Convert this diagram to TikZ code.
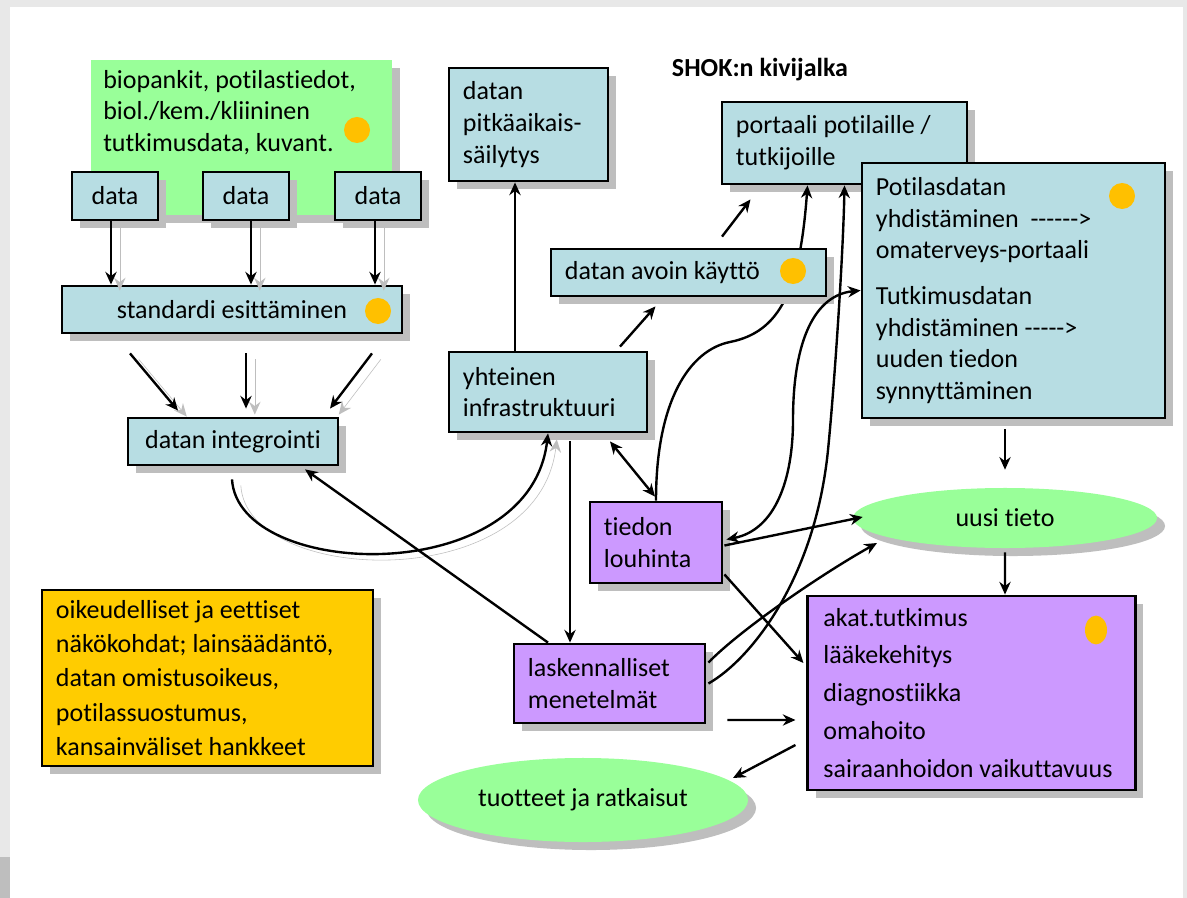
\documentclass[tikz,border=0pt]{standalone}
\usepackage{fontspec}
\setmainfont{Carlito}[Ligatures=NoCommon]
\usepackage{tikz}
\usetikzlibrary{shapes,arrows.meta,positioning,calc,shadows}
\usepackage{xcolor}

\definecolor{boxblue}{RGB}{183,221,227}
\definecolor{boxpurple}{RGB}{204,153,255}
\definecolor{boxgreen}{RGB}{153,255,153}
\definecolor{boxorange}{RGB}{255,204,0}
\definecolor{dotyellow}{RGB}{255,192,0}
\definecolor{shadowgray}{RGB}{190,190,190}
\definecolor{framegray}{RGB}{232,232,232}
\definecolor{cornergray}{RGB}{190,190,190}

\newcommand{\hy}{\hbox{-}}

\begin{document}
\begin{tikzpicture}[x=0.025cm, y=-0.025cm,
    every node/.style={font=\fontsize{18.5}{22.5}\selectfont},
    boxshadow/.style={drop shadow={shadow xshift=0.2cm, shadow yshift=-0.2cm, fill=shadowgray, opacity=1}},
    bluebox/.style={rectangle, draw=black, line width=2pt, fill=boxblue, boxshadow, inner xsep=0.35cm, align=flush left},
    purplebox/.style={rectangle, draw=black, line width=2pt, fill=boxpurple, boxshadow, inner xsep=0.35cm, align=flush left},
    orangebox/.style={rectangle, draw=black, line width=2pt, fill=boxorange, boxshadow, inner xsep=0.35cm, align=flush left},
    greenbox/.style={rectangle, fill=boxgreen, boxshadow},
    greenoval/.style={ellipse, fill=boxgreen, boxshadow, inner sep=0},
    dot/.style={circle, fill=dotyellow, minimum size=0.65cm, inner sep=0},
    arrow/.style={->, >={Stealth[length=9pt,width=8pt]}, line width=1.7pt},
    dblarrow/.style={<->, >={Stealth[length=9pt,width=8pt]}, line width=1.7pt},
    arrowshadow/.style={preaction={draw=shadowgray, transform canvas={shift={(0.22cm,-0.15cm)}}}}
]

% page
\fill[framegray] (0,0) rectangle (1187,898);
\fill[white] (10,7) rectangle (1183,898);
\fill[cornergray] (0,857) rectangle (10,898);
\useasboundingbox (0,0) rectangle (1187,898);

% sources
\node (bio) [greenbox, minimum width=7.525cm, minimum height=3.875cm] at (241.5,137.5) {};
\node (biotext) [anchor=north west, align=left, inner sep=0] at (103,70) {biopankit, potilastiedot,\\biol./kem./kliininen\\tutkimusdata, kuvant.};
\node (dotbio) [dot] at (357,130) {};

\node (d1) [bluebox, minimum width=2.15cm, minimum height=1.2cm, inner xsep=0] at (115,196) {data};
\node (d2) [bluebox, minimum width=2.15cm, minimum height=1.2cm, inner xsep=0] at (246,196) {data};
\node (d3) [bluebox, minimum width=2.15cm, minimum height=1.2cm, inner xsep=0] at (378,196) {data};

\node (std) [bluebox, minimum width=8.5cm, minimum height=1.175cm, align=center] at (232,309.5) {standardi esittäminen};
\node (dotstd) [dot] at (378,311) {};
\node (integ) [bluebox, minimum width=5.25cm, minimum height=1.175cm, align=center] at (233,441.5) {datan integrointi};

% infrastructure
\node (title) [anchor=west, font=\fontsize{18.5}{22.5}\selectfont\bfseries] at (667,70) {SHOK:n kivijalka};
\node (pitka) [bluebox, text width=3.275cm, minimum height=2.825cm] at (528.5,124.5) {datan\\pitkäaikais-\\säilytys};
\node (infra) [bluebox, text width=4.25cm, minimum height=2cm] at (548,392) {yhteinen\\infrastruktuuri};
\node (portaali) [bluebox, text width=5.425cm, minimum height=2.05cm] at (844.5,143) {portaali potilaille /\\tutkijoille};
\node (tiedon) [purplebox, text width=2.6cm, minimum height=2.025cm] at (656,542.5) {tiedon\\louhinta};

% runs behind the open data box
\draw[arrow] (tiedon.north) .. controls (656,400) and (690,350) .. (730,342)
    .. controls (780,332) and (800,290) .. ($(portaali.south)+(-37,0)$);

\node (avoin) [bluebox, text width=6.175cm, minimum height=1.175cm] at (688.5,272.5) {datan avoin käyttö};
\node (dotavoin) [dot] at (793,271) {};

\node (pot) [bluebox, text width=6.875cm, minimum height=6.375cm] at (1013.5,290.5)
    {Potilasdatan\\yhdistäminen \ \hy\hy\hy\hy\hy\hy>\\omaterveys-portaali\\[10pt]Tutkimusdatan\\yhdistäminen \hy\hy\hy\hy\hy>\\uuden tiedon\\synnyttäminen};
\node (dotpot) [dot] at (1122,196) {};

% results
\node (uusi) [greenoval, minimum width=7.6cm, minimum height=1.5cm] at (1005,518) {uusi tieto};
\node (akat) [purplebox, inner xsep=0.39cm, text width=7.4cm, minimum height=4.85cm] at (971.5,693)
    {akat.tutkimus\\[4.5pt]lääkekehitys\\[4.5pt]diagnostiikka\\[4.5pt]omahoito\\[4.5pt]sairaanhoidon vaikuttavuus};
\node (dotakat) [ellipse, fill=dotyellow, minimum width=0.55cm, minimum height=0.72cm, inner sep=0] at (1096,630) {};
\node (lask) [purplebox, text width=4.075cm, minimum height=1.975cm] at (609.5,683.5) {laskennalliset\\menetelmät};
\node (tuotteet) [greenoval, minimum width=8.25cm, minimum height=2.1cm] at (583,800) {tuotteet ja ratkaisut};
\node (legal) [orangebox, text width=7.575cm, minimum height=4.4cm] at (207.5,678)
    {oikeudelliset ja eettiset\\[2pt]näkökohdat; lainsäädäntö,\\[2pt]datan omistusoikeus,\\[2pt]potilassuostumus,\\[2pt]kansainväliset hankkeet};

% data flow
\foreach \d/\dx in {d1/-4,d2/5,d3/-3}
    \draw[arrow, arrowshadow] ($(\d.south)+(\dx,0)$) -- ($(\d.south |- std.north)+(\dx,0)$);
\draw[arrow, arrowshadow] ($(std.south)+(-102,19)$) -- ($(integ.north)+(-55,-6)$);
\draw[arrow, arrowshadow] ($(std.south)+(14,19)$) -- ($(integ.north)+(13,-8)$);
\draw[arrow, arrowshadow] ($(std.south)+(140,19)$) -- ($(integ.north)+(97,-8)$);
\draw[arrow, arrowshadow] ($(integ.south)+(-1,13)$) .. controls (238,580) and (530,590) .. (infra.south);

% infrastructure links
\draw[arrow] ($(infra.north)+(-33,0)$) -- ($(pitka.south)+(-13.5,0)$);
\draw[arrow] ($(infra.north)+(72,-4)$) -- ($(avoin.south)+(-33,9)$);
\draw[arrow] ($(avoin.north)+(33.5,-11)$) -- ($(portaali.south)+(-94,14)$);
\draw[dblarrow] ($(infra.south)+(62,8)$) -- ($(tiedon.north)+(-1,-4)$);
\draw[arrow] ($(infra.south)+(22,8)$) -- ($(lask.north)+(-39.5,0)$);
\draw[arrow] ($(lask.north)+(-61.5,0)$) -- ($(integ.south)+(72,3)$);

% mining and methods
\draw[dblarrow] ($(tiedon.east)+(3,-3)$) .. controls (775,530) and (793,480) .. (793,420)
    .. controls (793,340) and (815,295) .. (pot.west);
\draw[arrow] ($(tiedon.east)+(1,3)$) -- ($(uusi.west)+(10,-1)$);
\draw[arrow] ($(tiedon.south east)+(1,-10)$) -- ($(akat.west)+(-3,-30)$);
\draw[arrow] ($(lask.east)+(2,-21)$) .. controls (740,630) and (820,575) .. ($(uusi.center)+(-128,25)$);
\draw[arrow] ($(lask.east)+(2,0)$) .. controls (750,660) and (815,580) .. (828,450)
    .. controls (834,390) and (843,260) .. (portaali.south);
\draw[arrow] ($(lask.east)+(21,36.5)$) -- ($(akat.west)+(-11,27)$);
\draw[arrow] ($(akat.west)+(-11,52)$) -- ($(tuotteet.center)+(150,-22)$);

% new knowledge
\draw[arrow] ($(pot.south)+(-8.5,10)$) -- ($(uusi.north)+(0,-18)$);
\draw[arrow] ($(uusi.south)+(0,4)$) -- ($(akat.north)+(33.5,0)$);

\end{tikzpicture}
\end{document}
